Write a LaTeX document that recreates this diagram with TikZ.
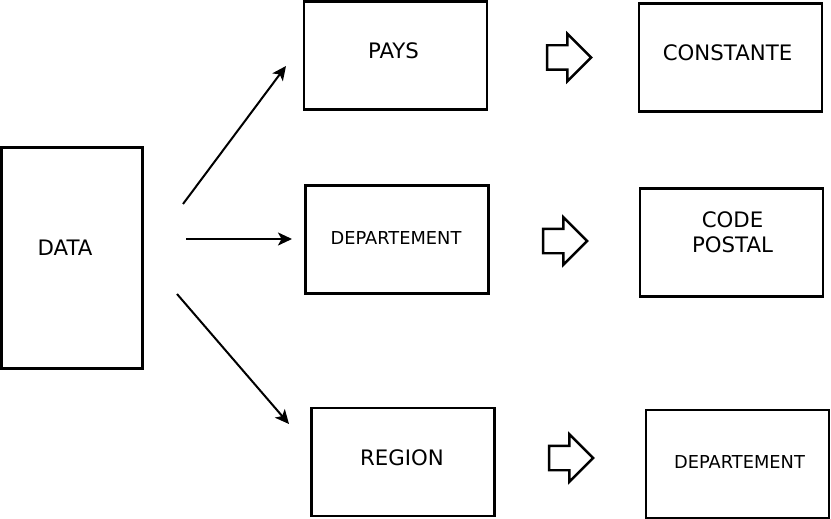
\documentclass[tikz,border=0pt]{standalone}
\usepackage{fontspec}
\setmainfont{DejaVu Sans}
\usetikzlibrary{%
	arrows.meta,%
	shapes.arrows,%
}
\tikzset{
	>={Stealth[length=14pt,width=13pt,inset=3.5pt]},%
	boxnode/.style={%
			draw,%
			rectangle,%
			line width=2.4pt,%
			minimum width=183pt,%
			minimum height=108pt,%
			inner sep=0},%
	bigtext/.style={%
			font={\fontsize{21.3}{25}\selectfont},%
			align=center},%
	smalltext/.style={%
			font={\fontsize{17.8}{21}\selectfont}},%
	blockarrow/.style={%
			draw,%
			single arrow,%
			line width=2.4pt,%
			minimum height=44pt,%
			minimum width=45pt,%
			inner sep=11pt,%
			single arrow head extend=11.5pt},%
}

\begin{document}
\begin{tikzpicture}[x=1pt, y=-1pt]%
	\useasboundingbox (0,0) rectangle (831,519);

	\node[boxnode, minimum width=141pt, minimum height=221pt, label={[bigtext, xshift=-7pt, yshift=10pt]center:DATA}] (data) at (72,258) {};

	\node[boxnode, label={[bigtext, xshift=-2pt, yshift=5pt]center:PAYS}] (pays) at (395.5,55.5) {};
	\node[boxnode, label={[smalltext, xshift=-1pt, yshift=1pt]center:DEPARTEMENT}] (dep) at (397,239.5) {};
	\node[boxnode, label={[bigtext, xshift=-1pt, yshift=4.5pt]center:REGION}] (region) at (403,462) {};

	\node[boxnode, label={[bigtext, xshift=-3pt, yshift=5pt]center:CONSTANTE}] (const) at (730.5,57.5) {};
	\node[boxnode, label={[bigtext, xshift=1pt, yshift=10pt]center:CODE\\POSTAL}] (cp) at (731.5,242.5) {};
	\node[boxnode, label={[smalltext, xshift=2pt, yshift=2pt]center:DEPARTEMENT}] (depr) at (737.5,464) {};

	\node[blockarrow] (b1) at (563,57.5) {};
	\node[blockarrow] (b2) at (559,241) {};
	\node[blockarrow] (b3) at (565,458) {};

	\coordinate (s1) at (183,204);
	\coordinate (t1) at (286,66);
	\coordinate (s2) at (186,239);
	\coordinate (t2) at (292,239);
	\coordinate (s3) at (177,294);
	\coordinate (t3) at (289,424);

	\draw[->, line width=2pt] (s1) -- (t1);
	\draw[->, line width=2pt] (s2) -- (t2);
	\draw[->, line width=2pt] (s3) -- (t3);
\end{tikzpicture}
\end{document}
